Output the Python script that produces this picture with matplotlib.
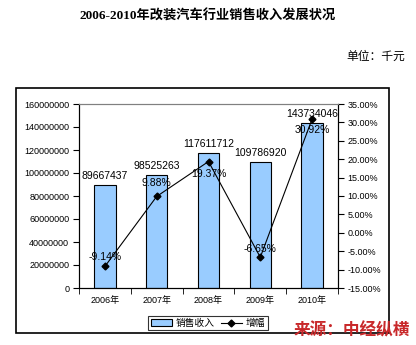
import matplotlib
matplotlib.use('Agg')
import matplotlib.pyplot as plt
from matplotlib.patches import Rectangle
from matplotlib.lines import Line2D
from matplotlib.patches import Patch

plt.rcParams['font.family'] = ['Liberation Sans', 'Noto Sans CJK SC']

years = ['2006年', '2007年', '2008年', '2009年', '2010年']
sales = [89667437, 98525263, 117611712, 109786920, 143734046]
growth = [-9.14, 9.88, 19.37, -6.65, 30.92]

# label offsets (px-ish, points) for growth labels, mimicking Excel placement
growth_offsets = [7, 10, -9, 6, -8]

fig = plt.figure(figsize=(4.16, 3.45), dpi=100)
W, H = 416, 345

# outer frame
fig.patches.append(Rectangle((16 / W, 1 - 333 / H), 373 / W, 245 / H,
                             transform=fig.transFigure, fill=False,
                             edgecolor='black', linewidth=1.2, zorder=0))

fig.text(0.5, 1 - 16 / H, '2006-2010年改装汽车行业销售收入发展状况',
         ha='center', va='center', fontsize=9.5, fontweight='bold',
         family=['Liberation Serif', 'Noto Sans CJK SC'])
fig.text(405 / W, 1 - 56 / H, '单位：千元', ha='right', va='center',
         fontsize=8.5, family=['Noto Sans CJK SC'])

ax = fig.add_axes([79 / W, 1 - 288 / H, (338 - 79) / W, (288 - 104) / H])
x = list(range(len(years)))
ax.bar(x, sales, width=0.41, color='#99CCFF', edgecolor='black',
       linewidth=0.8, zorder=2)
ax.set_xlim(-0.5, 4.5)
ax.set_ylim(0, 160000000)
ax.set_yticks(range(0, 160000001, 20000000))
ax.set_yticklabels([f'{v}' for v in range(0, 160000001, 20000000)], fontsize=6.5)
ax.set_xticks(x)
ax.set_xticklabels(years, fontsize=6.5)
ax.tick_params(axis='x', length=0, pad=6)
ax.set_xticks([i - 0.5 for i in range(6)], minor=True)
ax.tick_params(axis='x', which='minor', length=4, direction='out')
ax.tick_params(axis='y', length=4, direction='out', pad=3)
ax.spines['top'].set_color('#808080')
for s in ['left', 'bottom', 'right']:
    ax.spines[s].set_linewidth(0.8)

for xi, v in zip(x, sales):
    ax.annotate(f'{v}', (xi, v), xytext=(0, 3), textcoords='offset points',
                ha='center', va='bottom', fontsize=7.5, zorder=5)

ax2 = ax.twinx()
ax2.plot(x, [g / 100 for g in growth], color='black', linewidth=0.8,
         marker='D', markersize=3.5, zorder=4)
ax2.set_ylim(-0.15, 0.35)
ticks = [i / 100 for i in range(-15, 36, 5)]
ax2.set_yticks(ticks)
ax2.set_yticklabels([f'{t * 100:.2f}%' for t in ticks], fontsize=6.5)
ax2.tick_params(axis='y', length=4, direction='out', pad=3)
ax2.spines['top'].set_color('#808080')
ax2.spines['right'].set_linewidth(0.8)

for xi, g, off in zip(x, growth, growth_offsets):
    ax2.annotate(f'{g:.2f}%', (xi, g / 100), xytext=(0, off),
                 textcoords='offset points', ha='center', va='center',
                 fontsize=7.5, zorder=5)

handles = [Patch(facecolor='#99CCFF', edgecolor='black', linewidth=0.8),
           Line2D([], [], color='black', marker='D', markersize=3.5, linewidth=0.8)]
leg = fig.legend(handles, ['销售收入', '增幅'], loc='center',
                 bbox_to_anchor=(208 / W, 1 - 323 / H), ncol=2, fontsize=7,
                 frameon=True, fancybox=False, edgecolor='black',
                 handlelength=2.2, handletextpad=0.4, columnspacing=0.6,
                 borderpad=0.25, handleheight=0.6)
leg.get_frame().set_linewidth(0.8)

fig.text(410 / W, 1 - 330 / H, '来源：中经纵横', ha='right', va='center',
         fontsize=12, fontweight='bold', style='italic', color='#C8282A',
         family=['Noto Sans CJK SC'])

fig.savefig('out.png', dpi=100)
